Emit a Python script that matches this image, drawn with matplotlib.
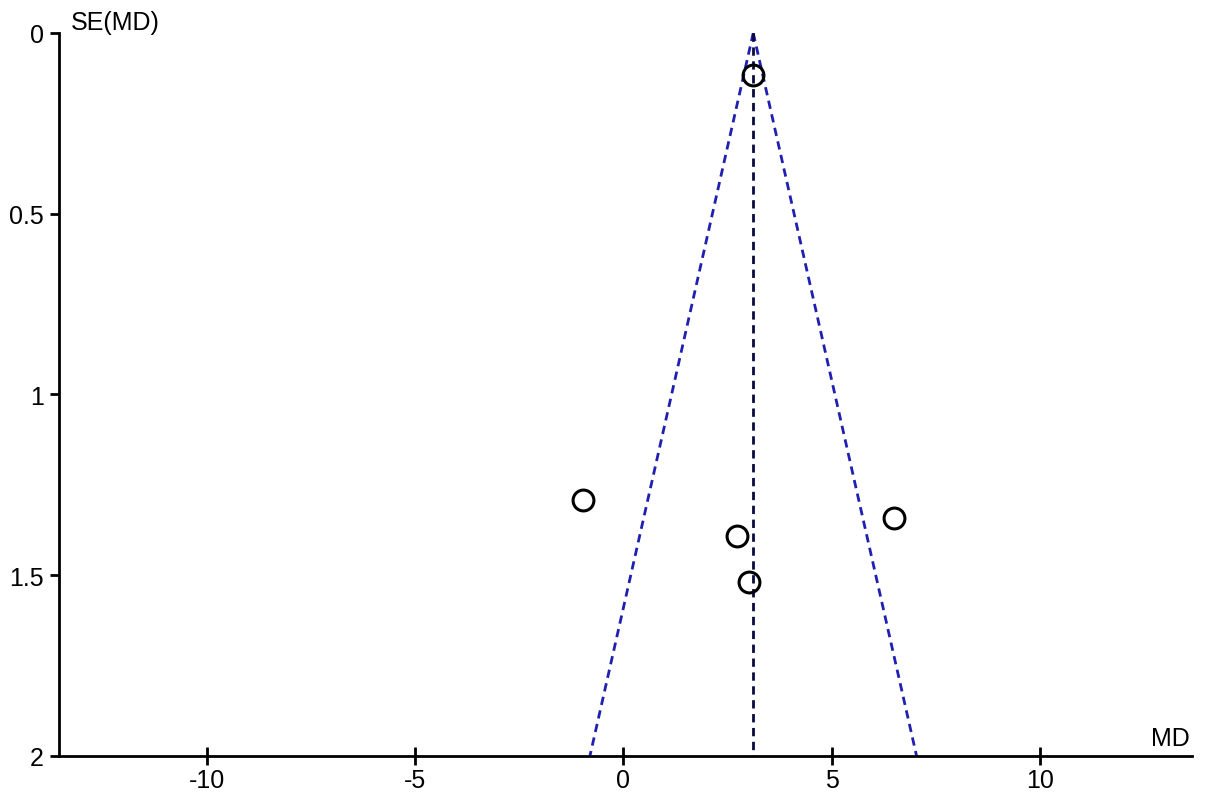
import matplotlib
matplotlib.use("Agg")
import matplotlib.pyplot as plt
import numpy as np

plt.rcParams["font.family"] = ["Liberation Sans", "DejaVu Sans"]

# study estimates (mean difference) and their standard errors
md = [3.11, -0.97, 6.49, 2.73, 3.01]
se = [0.115, 1.291, 1.341, 1.391, 1.518]
pooled = 3.12
xticks = [-10, -5, 0, 5, 10]
yticks = [0, 0.5, 1, 1.5, 2]
ylabels = ["0", "0.5", "1", "1.5", "2"]

fig = plt.figure(figsize=(12.05, 8.03), dpi=100)
ax = fig.add_axes([0.0487, 0.0573, 0.9405, 0.9004])

# funnel (95% limits) and pooled estimate
se_line = np.array([0, 2])
dash = (0, (3, 2))
ax.plot(pooled - 1.96 * se_line, se_line, color="#1f1fb0", lw=2, ls=dash)
ax.plot(pooled + 1.96 * se_line, se_line, color="#1f1fb0", lw=2, ls=dash)
ax.plot([pooled, pooled], [0, 2], color="#0a0a40", lw=2, ls=dash)

ax.plot(md, se, "o", ms=15, mfc="none", mec="black", mew=2.2)

ax.set_xlim(-13.55, 13.65)
ax.set_ylim(2, 0)
ax.set_xticks(xticks)
ax.set_xticklabels([str(t) for t in xticks])
ax.set_yticks(yticks)
ax.set_yticklabels(ylabels)

for s in ["top", "right"]:
    ax.spines[s].set_visible(False)
for s in ["left", "bottom"]:
    ax.spines[s].set_linewidth(2)

ax.tick_params(axis="y", direction="out", length=6.5, width=2, labelsize=18, pad=4)
ax.tick_params(axis="x", direction="inout", length=13.5, width=2, labelsize=18, pad=2)

ax.text(0.0105, 1.015, "SE(MD)", transform=ax.transAxes, fontsize=18,
        ha="left", va="center")
ax.text(0.998, 0.008, "MD", transform=ax.transAxes, fontsize=18,
        ha="right", va="bottom")

fig.savefig("out.png", dpi=100)
